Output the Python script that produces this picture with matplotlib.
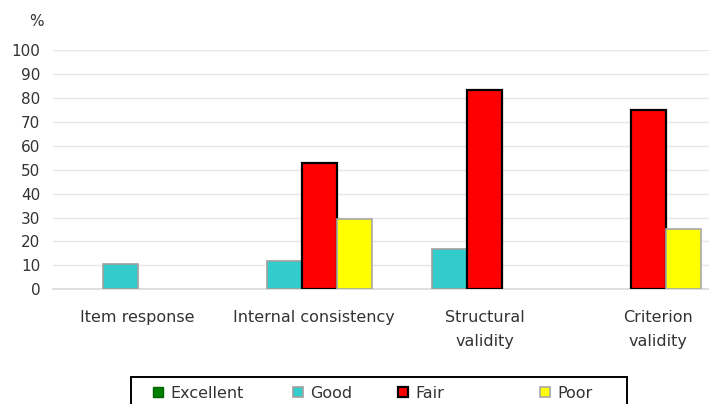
import matplotlib.pyplot as plt
import matplotlib.transforms as mtransforms
from matplotlib.patches import Rectangle
import numpy as np

categories = ["Item response", "Internal consistency", "Structural\nvalidity", "Criterion\nvalidity"]
series = ["Excellent", "Good", "Fair", "Poor"]
nan = np.nan
excellent = [nan, nan, nan, nan]
good = [10.5, 11.8, 16.7, nan]
fair = [nan, 52.9, 83.3, 75]
poor = [nan, 29.4, nan, 25]
yticks = [0, 10, 20, 30, 40, 50, 60, 70, 80, 90, 100]

colors = ["#008000", "#33CCCC", "#FF0000", "#FFFF00"]
edges = ["#006400", "#A0A0A0", "#000000", "#A8A8A8"]
widths = [1.0, 1.2, 1.6, 1.2]

plt.rcParams['font.family'] = ['DejaVu Sans']

fig = plt.figure(figsize=(7.09, 4.04), dpi=100)
ax = fig.add_axes([53 / 709, (404 - 289.3) / 404, 1 - 53 / 709, (289.3 - 50) / 404])

x = np.arange(len(categories))
w = 0.213
values = [excellent, good, fair, poor]
handles = []
for i, (name, vals) in enumerate(zip(series, values)):
    b = ax.bar(x + (i - 1.5) * w, vals, width=w, color=colors[i], edgecolor=edges[i],
               linewidth=widths[i], label=name, zorder=3)
    handles.append(b)

ax.set_xlim((53 - 138) / 164, 3 + (709 - 631) / 164)
ax.set_ylim(0, 100)
ax.set_yticks(yticks)
ax.grid(axis='y', color='#E6E6E6', linewidth=1, zorder=0)
for s in ['top', 'right', 'left']:
    ax.spines[s].set_visible(False)
ax.spines['bottom'].set_color('#D9D9D9')
ax.spines['bottom'].set_linewidth(1.2)
ax.tick_params(axis='y', length=0, pad=9, labelsize=11, labelcolor='#333333')
ax.tick_params(axis='x', length=0, pad=15, labelsize=11.5, labelcolor='#333333')
ax.set_xticks(x)
ax.set_xticklabels(categories, linespacing=1.75)

# shift labels the way the original layout places them
shifts = [-1, 11, 18, 27]
for lab, dx in zip(ax.get_xticklabels(), shifts):
    lab.set_transform(lab.get_transform() + mtransforms.ScaledTranslation(dx / 100, 0, fig.dpi_scale_trans))

fig.text(36 / 709, 1 - 21 / 404, "%", ha='center', va='center', fontsize=11, color='#333333')

# legend: frame box cut off at the bottom, entries at fixed spots
fig.patches.append(Rectangle((131 / 709, -0.05), 496 / 709, 0.05 + 1 - 377 / 404,
                             transform=fig.transFigure, fill=False, edgecolor='black',
                             linewidth=1.4))
entry_x = [153, 293, 398, 540]
for h, name, ex in zip(handles, series, entry_x):
    leg = fig.legend([h], [name], loc='center left', bbox_to_anchor=(ex / 709, 1 - 393 / 404),
                     frameon=False, fontsize=11.5, handlelength=0.6, handleheight=0.6,
                     handletextpad=0.5, borderpad=0, borderaxespad=0)
    for t in leg.get_texts():
        t.set_color('#333333')

fig.savefig("out.png", dpi=100)
